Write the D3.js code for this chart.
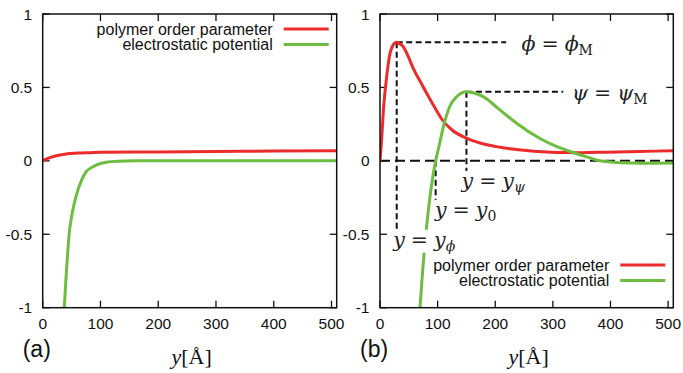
<!DOCTYPE html>
<html>
<head>
<meta charset="utf-8">
<script src="https://cdn.jsdelivr.net/npm/d3@7"></script>
<style>
  body { margin: 0; background: #fff; }
  text { fill: #111; }
</style>
</head>
<body>
<div id="chart"></div>
<script>
// axis ticks
const xTicks = [0, 100, 200, 300, 400, 500];
const yTicks = [-1, -0.5, 0, 0.5, 1];
const yTickLabels = ["-1", "-0.5", "0", "0.5", "1"];
const seriesNames = ["polymer order parameter", "electrostatic potential"];

// panel (a) : [y in Angstrom, value]
const orderA = [[0,0],[5,0.01],[10,0.018],[20,0.031],[30,0.04],[40,0.047],[60,0.053],[80,0.056],
  [100,0.058],[200,0.061],[300,0.064],[400,0.067],[509,0.069]];
const potentialA = [[35,-1.12],[37.4,-1],[40,-0.82],[43,-0.64],[46,-0.49],[50,-0.38],[57.6,-0.243],
  [67.5,-0.129],[75,-0.075],[87.6,-0.039],[100,-0.018],[110,-0.009],[130,-0.002],[160,0],[509,0]];

// panel (b)
const orderB = [[0,0],[2,0.1],[4,0.22],[6,0.35],[9,0.48],[11.5,0.57],[14,0.65],[17.3,0.73],[20,0.765],
  [23,0.79],[26,0.803],[29,0.808],[33,0.8],[40,0.78],[48,0.72],[57.7,0.63],[70,0.54],[81,0.46],
  [94,0.37],[107,0.285],[125,0.21],[150,0.154],[175,0.12],[202,0.097],[230,0.08],[254,0.07],
  [280,0.062],[306,0.057],[350,0.056],[393,0.059],[450,0.064],[509,0.069]];
const potentialB = [[67,-1.12],[69.4,-1],[74,-0.75],[79.8,-0.49],[85,-0.3],[90.8,-0.13],[96.6,0],
  [103,0.11],[110,0.233],[121,0.37],[133,0.437],[150,0.471],[165,0.46],[179,0.437],[208,0.347],
  [237,0.256],[277,0.154],[305,0.1],[335,0.057],[360,0.025],[381,0],[420,-0.013],[451,-0.016],
  [480,-0.016],[509,-0.015]];

// panel (b) guide lines: [x1, y1, x2, y2] in data units
const guides = [[29,0.808,219,0.808],[29,0.808,29,-0.47],[150,0.471,318,0.471],
  [150,0.471,150,-0.073],[96.6,0,96.6,-0.277]];
const zeroLine = [0, 509];
// panel (b) math labels: [x, y, lhs, rhs, subscript, italic subscript]
const mathLabels = [
  [245.5, 0.745, "\u03D5", "\u03D5", "M", false],
  [333, 0.415, "\u03C8", "\u03C8", "M", false],
  [141.5, -0.184, "y", "y", "\u03C8", true],
  [95.5, -0.381, "y", "y", "0", false],
  [23, -0.585, "y", "y", "\u03D5", true]
];

const W = 683, H = 373;
const red = "#ec2c2c", green = "#6dbd40";

const svg = d3.select("#chart").append("svg")
  .attr("width", W).attr("height", H)
  .style("font-family", "'Liberation Sans', Arial, sans-serif");

svg.append("rect").attr("width", W).attr("height", H).attr("fill", "#fff");

function drawPanel(id, left, right, tag, order, potential, legendTop) {
  const top = 14, bottom = 307.7;
  const x = d3.scaleLinear().domain([0, 509]).range([left, right]);
  const y = d3.scaleLinear().domain([-1, 1]).range([bottom, top]);
  const g = svg.append("g");

  g.append("clipPath").attr("id", "clip" + id)
    .append("rect").attr("x", left).attr("y", top)
    .attr("width", right - left).attr("height", bottom - top);

  // ticks, inward on all four sides
  const tl = 7;
  xTicks.forEach(t => {
    g.append("line").attr("x1", x(t)).attr("x2", x(t)).attr("y1", bottom).attr("y2", bottom - tl)
      .attr("stroke", "#111").attr("stroke-width", 1.3);
    g.append("line").attr("x1", x(t)).attr("x2", x(t)).attr("y1", top).attr("y2", top + tl)
      .attr("stroke", "#111").attr("stroke-width", 1.3);
    g.append("text").attr("x", x(t)).attr("y", bottom + 21.5)
      .attr("text-anchor", "middle").attr("font-size", 15.5).text(t);
  });
  yTicks.forEach((t, i) => {
    g.append("line").attr("x1", left).attr("x2", left + tl).attr("y1", y(t)).attr("y2", y(t))
      .attr("stroke", "#111").attr("stroke-width", 1.3);
    g.append("line").attr("x1", right).attr("x2", right - tl).attr("y1", y(t)).attr("y2", y(t))
      .attr("stroke", "#111").attr("stroke-width", 1.3);
    g.append("text").attr("x", left - 10.5).attr("y", y(t) + 5.5)
      .attr("text-anchor", "end").attr("font-size", 15.5).text(yTickLabels[i]);
  });

  const plot = g.append("g").attr("clip-path", "url(#clip" + id + ")");

  if (id === "b") {
    plot.append("line").attr("x1", x(zeroLine[0])).attr("x2", x(zeroLine[1]))
      .attr("y1", y(0)).attr("y2", y(0))
      .attr("stroke", "#111").attr("stroke-width", 2).attr("stroke-dasharray", "10,5");
    guides.forEach(d => {
      plot.append("line").attr("x1", x(d[0])).attr("y1", y(d[1]))
        .attr("x2", x(d[2])).attr("y2", y(d[3]))
        .attr("stroke", "#111").attr("stroke-width", 2).attr("stroke-dasharray", "6,3.5");
    });
  }

  const line = d3.line().x(d => x(d[0])).y(d => y(d[1])).curve(d3.curveMonotoneX);
  plot.append("path").datum(order).attr("d", line)
    .attr("fill", "none").attr("stroke", red).attr("stroke-width", 3);
  plot.append("path").datum(potential).attr("d", line)
    .attr("fill", "none").attr("stroke", green).attr("stroke-width", 3);

  if (id === "b") {
    mathLabels.forEach(m => {
      const lg = g.append("g");
      const t = lg.append("text").attr("x", x(m[0])).attr("y", y(m[1]))
        .attr("font-family", "'DejaVu Serif', 'Liberation Serif', serif").attr("font-size", 20.5)
        .style("fill", "#222");
      t.append("tspan").attr("font-style", "italic").text(m[2]);
      t.append("tspan").attr("dx", 6).text("=");
      t.append("tspan").attr("dx", 6).attr("font-style", "italic").text(m[3]);
      t.append("tspan").attr("font-size", 14).attr("dy", 4)
        .attr("font-style", m[5] ? "italic" : "normal").text(m[4]);
      const bb = t.node().getBBox();
      lg.insert("rect", "text").attr("x", bb.x - 1).attr("y", bb.y + 2)
        .attr("width", bb.width + 2).attr("height", bb.height - 3).attr("fill", "#fff");
    });
  }

  // frame
  g.append("rect").attr("x", left).attr("y", top).attr("width", right - left).attr("height", bottom - top)
    .attr("fill", "none").attr("stroke", "#111").attr("stroke-width", 1.5);

  // legend
  [red, green].forEach((c, i) => {
    const ly = legendTop + i * 15.5;
    g.append("text").attr("x", right - 64).attr("y", ly + 5.5)
      .attr("text-anchor", "end").attr("font-size", 16).text(seriesNames[i]);
    g.append("line").attr("x1", right - 53).attr("x2", right - 8)
      .attr("y1", ly).attr("y2", ly).attr("stroke", c).attr("stroke-width", 3.2);
  });

  // panel tag and axis title
  g.append("text").attr("x", left - 20).attr("y", 357).attr("font-size", 23).text(tag);
  const ttl = g.append("text").attr("x", (left + right) / 2 + 2).attr("y", 364)
    .attr("text-anchor", "middle")
    .attr("font-family", "'Liberation Serif', 'DejaVu Serif', serif").attr("font-size", 22);
  ttl.append("tspan").attr("font-style", "italic").text("y");
  ttl.append("tspan").text("[\u00C5]");
}

drawPanel("a", 42.7, 336.7, "(a)", orderA, potentialA, 29);
drawPanel("b", 380, 673.3, "(b)", orderB, potentialB, 265);
</script>
</body>
</html>
